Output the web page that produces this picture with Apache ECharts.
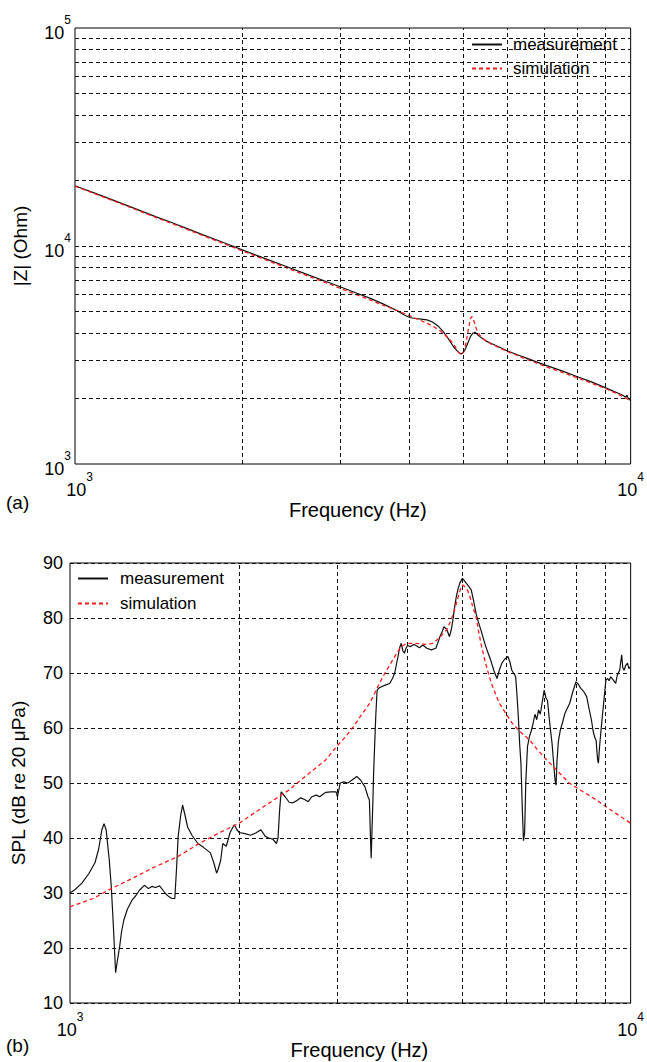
<!DOCTYPE html>
<html>
<head>
<meta charset="utf-8">
<title>Impedance and SPL</title>
<script src="https://cdn.jsdelivr.net/npm/echarts@6/dist/echarts.min.js"></script>
<style>
  html, body { margin: 0; padding: 0; background: #fff; }
  #main { width: 647px; height: 1062px; }
</style>
</head>
<body>
<div id="main"></div>
<script>
// (a) impedance |Z| in Ohm
const impMeasFreq = [1000, 1100, 1200, 1300, 1400, 1500, 1600, 1700, 1800, 1900, 2000, 2200, 2400, 2600, 2800, 3000, 3200, 3400, 3600, 3800, 3900, 4000, 4100, 4200, 4300, 4400, 4500, 4600, 4700, 4800, 4900, 4950, 5000, 5050, 5100, 5150, 5200, 5250, 5300, 5400, 5500, 5600, 5800, 6000, 6250, 6500, 6750, 7000, 7500, 8000, 8500, 9000, 9300, 9500, 9700, 9800, 9850, 9900, 9950, 10000];
const impMeas = [18900, 17250, 15850, 14650, 13600, 12750, 11950, 11250, 10650, 10100, 9600, 8750, 8050, 7450, 6950, 6500, 6100, 5750, 5400, 5050, 4850, 4700, 4650, 4620, 4580, 4480, 4300, 4050, 3750, 3450, 3250, 3200, 3250, 3400, 3620, 3850, 3980, 4020, 3920, 3780, 3660, 3580, 3440, 3300, 3170, 3060, 2950, 2850, 2680, 2520, 2380, 2240, 2160, 2110, 2060, 2020, 2070, 2000, 1970, 1960];
const impSimFreq = [1000, 1200, 1400, 1600, 1800, 2000, 2200, 2400, 2600, 2800, 3000, 3200, 3400, 3600, 3800, 4000, 4200, 4400, 4500, 4600, 4700, 4800, 4850, 4900, 4950, 5000, 5050, 5100, 5150, 5180, 5220, 5280, 5350, 5450, 5600, 5800, 6000, 6500, 7000, 7500, 8000, 8500, 9000, 9500, 10000];
const impSim = [18800, 15750, 13500, 11850, 10550, 9500, 8650, 7950, 7350, 6850, 6400, 6000, 5650, 5330, 5050, 4790, 4540, 4300, 4150, 3980, 3780, 3550, 3400, 3260, 3180, 3250, 3550, 4100, 4650, 4750, 4550, 4150, 3900, 3720, 3560, 3420, 3280, 3020, 2810, 2640, 2490, 2350, 2220, 2090, 1950];

// (b) SPL in dB re 20 uPa
const splMeasFreq = [1000, 1020, 1050, 1080, 1108, 1125, 1140, 1150, 1160, 1175, 1185, 1195, 1206, 1216, 1226, 1236, 1247, 1265, 1290, 1310, 1330, 1357, 1380, 1400, 1420, 1445, 1465, 1477, 1502, 1520, 1538, 1550, 1559, 1575, 1588, 1605, 1621, 1650, 1691, 1730, 1780, 1805, 1826, 1840, 1857, 1873, 1900, 1930, 1963, 1985, 2004, 2050, 2100, 2144, 2190, 2230, 2262, 2300, 2334, 2350, 2365, 2380, 2420, 2460, 2497, 2540, 2580, 2620, 2660, 2700, 2750, 2789, 2830, 2860, 2920, 2982, 3000, 3034, 3080, 3130, 3180, 3247, 3300, 3358, 3400, 3420, 3435, 3445, 3458, 3470, 3480, 3492, 3510, 3530, 3560, 3594, 3650, 3717, 3760, 3795, 3820, 3847, 3870, 3897, 3925, 3949, 3975, 4000, 4050, 4100, 4141, 4200, 4259, 4330, 4411, 4493, 4530, 4568, 4610, 4645, 4700, 4751, 4790, 4818, 4850, 4887, 4920, 4955, 4985, 5010, 5050, 5094, 5140, 5196, 5250, 5301, 5350, 5407, 5460, 5516, 5570, 5626, 5700, 5776, 5830, 5893, 5960, 6040, 6090, 6138, 6200, 6236, 6270, 6305, 6340, 6373, 6410, 6440, 6470, 6500, 6546, 6600, 6650, 6697, 6750, 6800, 6851, 6900, 6950, 7011, 7060, 7107, 7170, 7241, 7289, 7330, 7360, 7390, 7430, 7491, 7560, 7636, 7700, 7786, 7880, 7990, 8060, 8150, 8250, 8347, 8430, 8511, 8570, 8622, 8680, 8710, 8737, 8760, 8800, 8854, 8910, 8973, 9033, 9100, 9150, 9216, 9300, 9405, 9460, 9505, 9560, 9600, 9640, 9680, 9733, 9800, 9870, 9930, 10000];
const splMeas = [30, 30.6, 31.8, 33.5, 35.5, 38, 41.5, 42.6, 41.5, 36, 31, 24, 15.5, 18, 20.2, 23, 25, 27, 28.7, 29.5, 30.5, 31.4, 30.8, 31.2, 31, 31.3, 30.5, 30, 29.3, 29, 29, 35, 40.2, 44, 46, 44, 42, 40.5, 39, 38.3, 37.3, 35.5, 33.6, 34.5, 36, 39, 38.5, 41, 42.4, 41.5, 41, 40.8, 40.5, 40.9, 41.5, 40.3, 40, 39.8, 39, 40, 45, 48.4, 47.5, 46.5, 46.4, 46.8, 47.3, 47, 46.6, 47.5, 47.8, 47.5, 48, 48.3, 48.4, 48.4, 47.5, 50, 50.2, 50, 50.5, 51.2, 50.5, 49.3, 47.5, 46.9, 40, 36.3, 42, 47, 52, 56, 62, 66.9, 67.3, 67.5, 67.8, 68.1, 69, 70, 71.5, 73, 74.5, 75.4, 74, 73.6, 74.5, 75, 74.8, 75.2, 75, 74.6, 75.1, 74.5, 74.2, 74.5, 75.5, 76.6, 77.5, 78.4, 77.9, 76.6, 78, 79.6, 81.8, 83.9, 85.2, 86.3, 86.8, 87.2, 86.8, 86.3, 85.8, 85.1, 83, 80.8, 79.3, 77.8, 76.3, 74.8, 73.6, 72.4, 70.5, 69, 70.5, 71.8, 72.5, 73, 72, 70.5, 69.8, 69.3, 66, 62, 57, 53.5, 45, 39.5, 41, 50, 56.6, 58.5, 59.5, 60.8, 62.5, 61.5, 63.3, 62.5, 64.5, 66.9, 65.5, 65, 61, 57.2, 53.6, 50.5, 49.6, 54, 57.5, 59.6, 61, 62.7, 63.5, 64.5, 66.5, 68.4, 68, 67.2, 66.6, 65.7, 63.5, 61.5, 59.5, 58.4, 57.7, 55.5, 54, 53.6, 56.5, 59.6, 62.5, 65.7, 68.7, 69, 68.6, 69.3, 68.8, 68.1, 69.5, 70, 70.5, 72, 73.3, 71, 70.5, 71.4, 71.8, 70.8, 71.2];
const splSimFreq = [1000, 1100, 1185, 1300, 1400, 1555, 1700, 1850, 2004, 2200, 2456, 2650, 2858, 2988, 3100, 3200, 3300, 3425, 3520, 3614, 3720, 3826, 3900, 3985, 4141, 4300, 4441, 4570, 4690, 4780, 4851, 4930, 4980, 5021, 5070, 5120, 5165, 5230, 5301, 5350, 5407, 5480, 5553, 5650, 5750, 5832, 6000, 6155, 6400, 6608, 6800, 7037, 7400, 7770, 8200, 8600, 9033, 9500, 10000];
const splSim = [27.5, 29, 30.8, 32.8, 34.5, 36.6, 39, 41, 42.7, 45.5, 48.7, 51.5, 54.2, 56.6, 58.4, 60.2, 62.2, 64.5, 67, 69.3, 71.5, 73.6, 74.8, 75.4, 75.4, 75.2, 75.4, 76.5, 77.8, 79.5, 81.5, 84, 85.5, 86, 85.6, 85, 84, 82, 80.2, 77.8, 75.4, 72.8, 70.5, 68, 66, 64.5, 62.5, 60.8, 59, 57.8, 56.2, 54.5, 52.2, 50, 48.5, 47.2, 45.7, 44.2, 42.7];

// gridline positions
const freqGrid = [2000, 3000, 4000, 5000, 6000, 7000, 8000, 9000];
const impGrid = [2000, 3000, 4000, 5000, 6000, 7000, 8000, 9000, 10000, 20000, 30000, 40000, 50000, 60000, 70000, 80000, 90000];

const FONT = '"Liberation Sans", Arial, sans-serif';
const pair = (xs, ys) => xs.map((x, i) => [x, ys[i]]);

const pow10 = {
  b: { fontSize: 18, lineHeight: 28, verticalAlign: 'bottom', fontFamily: FONT, color: '#000' },
  bs: { fontSize: 18, lineHeight: 28, verticalAlign: 'bottom', fontFamily: FONT, color: '#000', padding: [0, 0, 0, 9] },
  s: { fontSize: 12, lineHeight: 12, verticalAlign: 'top', fontFamily: FONT, color: '#000' }
};
const powLabel = (v) => '{b|10}{s|' + Math.round(Math.log10(v)) + '}';

const gridLine = { color: '#111', type: [4, 3], width: 1 };

const chart = echarts.init(document.getElementById('main'), null, { renderer: 'svg' });

chart.setOption({
  animation: false,
  textStyle: { fontFamily: FONT, color: '#000' },
  grid: [
    { left: 75, top: 28, width: 556, height: 436, show: true, borderColor: '#000', borderWidth: 1 },
    { left: 70, top: 563, width: 561, height: 440, show: true, borderColor: '#000', borderWidth: 1 }
  ],
  legend: [
    {
      data: ['measurement', 'simulation'],
      orient: 'vertical', left: 465, top: 30,
      padding: [6, 12, 6, 6], backgroundColor: '#fff',
      itemWidth: 30, itemHeight: 14, itemGap: 7,
      itemStyle: { opacity: 0 },
      textStyle: { fontSize: 17, fontFamily: FONT, color: '#000', padding: [0, 0, 0, 6] },
      selectedMode: false
    },
    {
      data: ['measurement', 'simulation'],
      orient: 'vertical', left: 77, top: 570, padding: 0,
      itemWidth: 30, itemHeight: 14, itemGap: 8,
      itemStyle: { opacity: 0 },
      textStyle: { fontSize: 17, fontFamily: FONT, color: '#000', padding: [0, 0, 0, 7] },
      selectedMode: false
    }
  ],
  xAxis: [
    {
      type: 'log', logBase: 10, gridIndex: 0, min: 1000, max: 10000,
      name: 'Frequency (Hz)', nameLocation: 'middle', nameGap: 21,
      nameTextStyle: { fontSize: 20, fontFamily: FONT, color: '#000', padding: [0, 0, 0, 10] },
      axisLine: { show: false }, axisTick: { show: false }, splitLine: { show: false },
      axisLabel: {
        margin: 7, rich: pow10,
        formatter: (v) => v < 1500 ? '{bs|10}{s|3}' : powLabel(v)
      }
    },
    {
      type: 'log', logBase: 10, gridIndex: 1, min: 1000, max: 10000,
      name: 'Frequency (Hz)', nameLocation: 'middle', nameGap: 29,
      nameTextStyle: { fontSize: 20, fontFamily: FONT, color: '#000', padding: [0, 0, 0, 18] },
      axisLine: { show: false }, axisTick: { show: false }, splitLine: { show: false },
      axisLabel: { margin: 8, rich: pow10, formatter: powLabel }
    }
  ],
  yAxis: [
    {
      type: 'log', logBase: 10, gridIndex: 0, min: 1000, max: 100000,
      name: '|Z| (Ohm)', nameLocation: 'middle', nameGap: 45, nameRotate: 90,
      nameTextStyle: { fontSize: 19, fontFamily: FONT, color: '#000' },
      axisLine: { show: false }, axisTick: { show: false }, splitLine: { show: false },
      axisLabel: { margin: 4, rich: pow10, formatter: powLabel }
    },
    {
      type: 'value', gridIndex: 1, min: 10, max: 90, interval: 10,
      name: 'SPL (dB re 20 μPa)', nameLocation: 'middle', nameGap: 42, nameRotate: 90,
      nameTextStyle: { fontSize: 19, fontFamily: FONT, color: '#000' },
      axisLine: { show: false }, axisTick: { show: false },
      splitLine: { show: true, lineStyle: gridLine },
      axisLabel: { margin: 7, fontSize: 18, fontFamily: FONT, color: '#000' }
    }
  ],
  series: [
    {
      name: 'grid-a', type: 'line', xAxisIndex: 0, yAxisIndex: 0, data: [], z: 1, silent: true,
      markLine: {
        silent: true, symbol: ['none', 'none'], label: { show: false }, lineStyle: gridLine,
        data: freqGrid.map((v) => ({ xAxis: v })).concat(impGrid.map((v) => ({ yAxis: v })))
      }
    },
    {
      name: 'grid-b', type: 'line', xAxisIndex: 1, yAxisIndex: 1, data: [], z: 1, silent: true,
      markLine: {
        silent: true, symbol: ['none', 'none'], label: { show: false }, lineStyle: gridLine,
        data: freqGrid.map((v) => ({ xAxis: v }))
      }
    },
    {
      name: 'measurement', type: 'line', xAxisIndex: 0, yAxisIndex: 0, z: 3,
      data: pair(impMeasFreq, impMeas), symbol: 'none',
      lineStyle: { color: '#111', width: 1.2 }, itemStyle: { color: '#111' }
    },
    {
      name: 'simulation', type: 'line', xAxisIndex: 0, yAxisIndex: 0, z: 4,
      data: pair(impSimFreq, impSim), symbol: 'none',
      lineStyle: { color: '#ff1a1a', width: 1.3, type: [4, 3] }, itemStyle: { color: '#ff1a1a' }
    },
    {
      name: 'measurement', type: 'line', xAxisIndex: 1, yAxisIndex: 1, z: 3,
      data: pair(splMeasFreq, splMeas), symbol: 'none',
      lineStyle: { color: '#111', width: 1.2 }, itemStyle: { color: '#111' }
    },
    {
      name: 'simulation', type: 'line', xAxisIndex: 1, yAxisIndex: 1, z: 4,
      data: pair(splSimFreq, splSim), symbol: 'none',
      lineStyle: { color: '#ff1a1a', width: 1.3, type: [4, 3] }, itemStyle: { color: '#ff1a1a' }
    }
  ],
  graphic: [
    { type: 'text', left: 6, top: 493, style: { text: '(a)', fontSize: 19, fontFamily: FONT, fill: '#000' } },
    { type: 'text', left: 6, top: 1036, style: { text: '(b)', fontSize: 19, fontFamily: FONT, fill: '#000' } }
  ]
});
</script>
</body>
</html>
